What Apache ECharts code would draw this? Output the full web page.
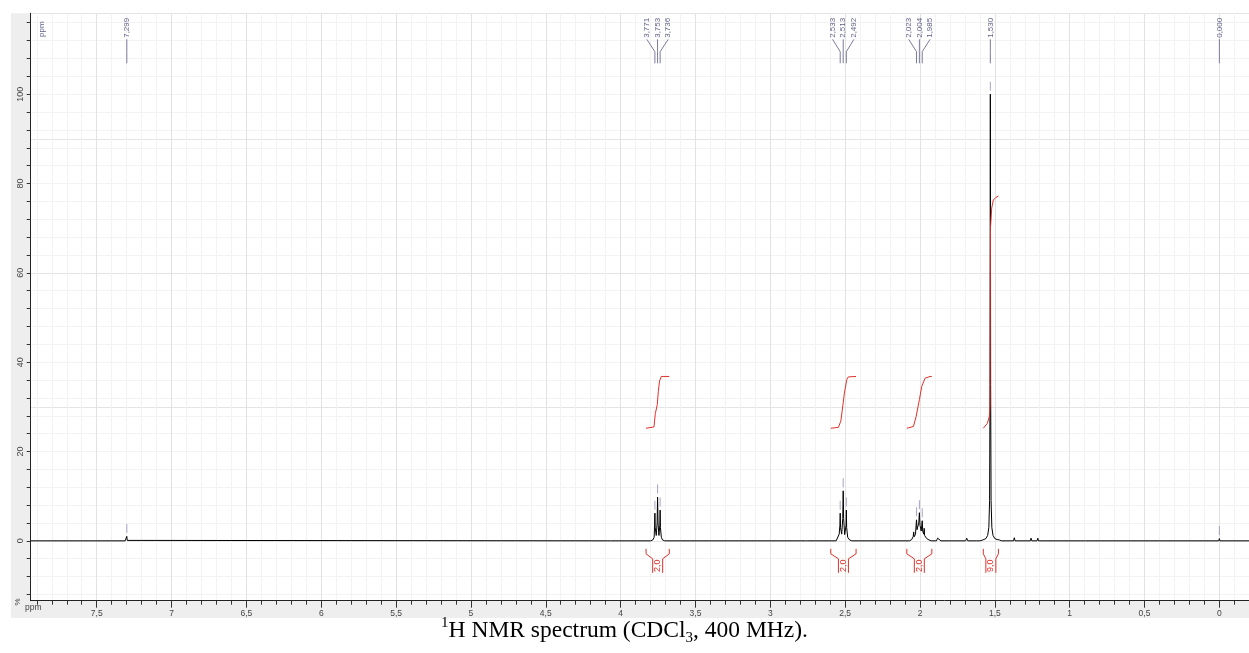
<!DOCTYPE html>
<html>
<head>
<meta charset="utf-8">
<script src="https://cdn.jsdelivr.net/npm/echarts@6/dist/echarts.min.js"></script>
<style>
    html, body { margin: 0; padding: 0; background: #fff; }
    #chart { width: 1249px; height: 653px; }
</style>
</head>
<body>
<div id="chart"></div>
<script>
// Axes ranges (ppm axis is reversed)
const xMin = -0.198, xMax = 7.941;
const yMin = -13.4, yMax = 118.1;
const xLabelValues = [0, 0.5, 1, 1.5, 2, 2.5, 3, 3.5, 4, 4.5, 5, 5.5, 6, 6.5, 7, 7.5];
const yLabelValues = [0, 20, 40, 60, 80, 100];

// Minor ticks: every 0.1 ppm / every 4 %
const xTickValues = [];
for (let i = -1; i <= 79; i++) xTickValues.push(+(i / 10).toFixed(1));
const yTickValues = [];
for (let v = -12; v <= 116; v += 4) yTickValues.push(v);

// Spectrum [ppm, intensity]
const spectrum = [
    [7.941, 0],
    [7.310, 0], [7.302, 0.1], [7.299, 1.0], [7.296, 0.1], [7.290, 0],
    [4.085, 0], [4.076, 0.3], [4.068, 0],
    [3.800, 0], [3.785, 0.2], [3.776, 0.8], [3.773, 3.5], [3.771, 6.2], [3.769, 3], [3.762, 1.2],
    [3.756, 4], [3.753, 9.8], [3.750, 4], [3.744, 1.2], [3.738, 3.5], [3.736, 6.9], [3.734, 3],
    [3.728, 0.8], [3.720, 0.2], [3.705, 0],
    [2.765, 0], [2.758, 0.3], [2.750, 0],
    [2.560, 0], [2.548, 0.3], [2.540, 1.5], [2.535, 3.5], [2.533, 6.2], [2.531, 3], [2.523, 1.5],
    [2.516, 5], [2.513, 11.2], [2.510, 5], [2.503, 1.4], [2.494, 3.5], [2.492, 6.9], [2.490, 3],
    [2.483, 0.8], [2.470, 0.2], [2.455, 0],
    [2.070, 0], [2.055, 0.3], [2.045, 1.0], [2.042, 2.0], [2.039, 0.9], [2.030, 1.5], [2.026, 3.5],
    [2.023, 4.7], [2.020, 2.5], [2.013, 2.5], [2.008, 4], [2.004, 6.3], [2.000, 3.5], [1.992, 2.2],
    [1.988, 3.5], [1.985, 4.5], [1.982, 2.2], [1.975, 1.5], [1.972, 2.8], [1.969, 1.2], [1.962, 1.3],
    [1.955, 0.5], [1.940, 0.2], [1.925, 0],
    [1.890, 0], [1.882, 0.6], [1.877, 1.0], [1.871, 0.5], [1.860, 0],
    [1.695, 0], [1.688, 0.6], [1.681, 0],
    [1.640, 0], [1.632, 0.3], [1.624, 0],
    [1.600, 0], [1.580, 0.2], [1.560, 0.5], [1.548, 1.2], [1.540, 3], [1.535, 9], [1.532, 35],
    [1.530, 100], [1.528, 35], [1.525, 9], [1.520, 3], [1.512, 1.2], [1.500, 0.5], [1.485, 0.3],
    [1.476, 0.5], [1.470, 0.2], [1.455, 0],
    [1.425, 0], [1.420, 0.3], [1.415, 0],
    [1.375, 0], [1.370, 0.7], [1.365, 0],
    [1.263, 0], [1.258, 0.6], [1.253, 0],
    [1.218, 0], [1.213, 0.6], [1.208, 0],
    [1.165, 0], [1.160, 0.4], [1.155, 0],
    [0.925, 0], [0.920, 0.3], [0.915, 0], [0.910, 0], [0.905, 0.3], [0.900, 0], [0.895, 0], [0.890, 0.3], [0.885, 0],
    [0.004, 0], [0.000, 0.5], [-0.004, 0],
    [-0.198, 0]
];

// Picked peaks
const peakPpm = [7.299, 3.771, 3.753, 3.736, 2.533, 2.513, 2.492, 2.023, 2.004, 1.985, 1.530, 0.000];
const peakHeight = [1.0, 6.2, 9.8, 6.9, 6.2, 11.2, 6.9, 4.7, 6.3, 4.5, 100, 0.5];
const peakGroup = [0, 1, 1, 1, 2, 2, 2, 3, 3, 3, 4, 5];
const peakText = ['7,299', '3,771', '3,753', '3,736', '2,533', '2,513', '2,492', '2,023', '2,004', '1,985', '1,530', '0,000'];

// Integrals
const integralRegions = [[3.830, 3.675], [2.596, 2.427], [2.088, 1.921], [1.577, 1.476]];
const integralText = ['2,0', '2,0', '2,0', '9,0'];
const integralCurves = [
    [[3.830, 25.2], [3.777, 25.5], [3.768, 28.5], [3.755, 30.5], [3.748, 33.5], [3.740, 35.8], [3.728, 36.8], [3.675, 36.8]],
    [[2.596, 25.2], [2.545, 25.4], [2.529, 26.8], [2.519, 29.3], [2.505, 33.1], [2.489, 36.1], [2.479, 36.7], [2.427, 36.8]],
    [[2.088, 25.2], [2.044, 25.6], [2.026, 27.8], [2.004, 31.6], [1.988, 34.6], [1.966, 36.4], [1.933, 36.8], [1.921, 36.8]],
    [[1.577, 25.2], [1.550, 26.3], [1.537, 27.8], [1.532, 30.1], [1.529, 70.0], [1.521, 74.5], [1.510, 76.3], [1.492, 76.9], [1.476, 77.2]]
];

const FONT = 'Liberation Sans';
const LABEL_BLUE = '#5f5f88';
const LINE_BLUE = '#7a7a9e';
const RED = '#e0302a';
const fmt = v => String(v).replace('.', ',');

function renderPeakLabel(params, api)
{
    const i = api.value(2);
    const top = params.coordSys.y;
    const members = [];
    peakGroup.forEach((g, j) => { if (g === peakGroup[i]) members.push(j); });
    const xs = members.map(j => api.coord([peakPpm[j], 0])[0]);
    const k = members.indexOf(i);
    const n = members.length;
    const center = xs.reduce((a, b) => a + b, 0) / n;
    const peakX = api.coord([api.value(0), 0])[0];
    const labelX = n === 1 ? peakX : center + (k - (n - 1) / 2) * 10.7;
    return {
        type: 'group',
        children: [
            {
                type: 'polyline',
                shape: { points: [[labelX, top + 26], [peakX, top + 38.4], [peakX, top + 50]] },
                style: { stroke: LINE_BLUE, lineWidth: 1, fill: null }
            },
            {
                type: 'text',
                x: labelX,
                y: top + 24.5,
                rotation: Math.PI / 2,
                style: {
                    text: peakText[i], fill: LABEL_BLUE, font: '8px "Liberation Sans"',
                    align: 'left', verticalAlign: 'middle'
                }
            }
        ]
    };
}

function renderIntegralBracket(params, api)
{
    const x1 = api.coord([api.value(0), 0])[0];
    const x2 = api.coord([api.value(1), 0])[0];
    const y0 = api.coord([0, 0])[1];
    const cx = (x1 + x2) / 2;
    const style = { stroke: RED, lineWidth: 1, fill: null };
    return {
        type: 'group',
        children: [
            { type: 'polyline', shape: { points: [[x1, y0 + 8], [x1, y0 + 13], [cx - 5, y0 + 18], [cx - 5, y0 + 32]] }, style },
            { type: 'polyline', shape: { points: [[x2, y0 + 8], [x2, y0 + 13], [cx + 5, y0 + 18], [cx + 5, y0 + 32]] }, style },
            {
                type: 'text', x: cx, y: y0 + 25, rotation: Math.PI / 2,
                style: {
                    text: integralText[api.value(3)], fill: RED, font: '9px "Liberation Sans"',
                    align: 'center', verticalAlign: 'middle'
                }
            }
        ]
    };
}

const chart = echarts.init(document.getElementById('chart'));

const gridBox = { left: 30.7, top: 13.3, right: 0, bottom: 52.3 };

chart.setOption({
    animation: false,
    title: {
        text: '{sup|1}H NMR spectrum (CDCl{sub|3}, 400 MHz).',
        left: 'center',
        top: 616,
        padding: 0,
        textStyle: {
            fontFamily: 'Liberation Serif', fontSize: 23.5, fontWeight: 'normal', color: '#000', lineHeight: 30,
            rich: {
                sup: { fontFamily: 'Liberation Serif', fontSize: 15, lineHeight: 15, verticalAlign: 'top', color: '#000' },
                sub: { fontFamily: 'Liberation Serif', fontSize: 15, lineHeight: 15, verticalAlign: 'bottom', color: '#000' }
            }
        }
    },
    graphic: [
        { type: 'rect', z: -1, shape: { x: 11, y: 13.3, width: 19.7, height: 604.7 }, style: { fill: '#eeeeee' } },
        { type: 'rect', z: -1, shape: { x: 11, y: 600.7, width: 1238, height: 17.3 }, style: { fill: '#eeeeee' } },
        {
            type: 'text', x: 41.5, y: 37, rotation: Math.PI / 2, z: 5,
            style: { text: 'ppm', fill: LABEL_BLUE, font: '8px "Liberation Sans"', align: 'left', verticalAlign: 'middle' }
        },
        {
            type: 'text', x: 18, y: 602, rotation: Math.PI / 2, z: 5,
            style: { text: '%', fill: '#444', font: '8px "Liberation Sans"', align: 'center', verticalAlign: 'middle' }
        },
        {
            type: 'text', x: 25, y: 608, z: 5,
            style: { text: 'ppm', fill: '#444', font: '8.5px "Liberation Sans"', align: 'left', verticalAlign: 'middle' }
        }
    ],
    grid: gridBox,
    xAxis: [
        {
            type: 'value', inverse: true, min: xMin, max: xMax, position: 'bottom',
            axisLine: { onZero: false, lineStyle: { color: '#222', width: 1 } },
            axisTick: { customValues: xTickValues, length: 4, lineStyle: { color: '#333' } },
            axisLabel: { show: false },
            splitLine: { show: true, lineStyle: { color: '#f3f3f3', width: 1 } }
        },
        {
            type: 'value', inverse: true, min: xMin, max: xMax, position: 'bottom',
            axisLine: { show: false, onZero: false },
            axisTick: { customValues: xLabelValues, length: 7, lineStyle: { color: '#333' } },
            axisLabel: {
                customValues: xLabelValues, formatter: fmt, margin: 8,
                color: '#444', fontSize: 8.5, fontFamily: FONT
            },
            splitLine: { show: true, lineStyle: { color: '#e2e2e2', width: 1 } }
        }
    ],
    yAxis: [
        {
            type: 'value', min: yMin, max: yMax, position: 'left',
            axisLine: { show: true, onZero: false, lineStyle: { color: '#222', width: 1 } },
            axisTick: { show: true, customValues: yTickValues, length: 4, lineStyle: { color: '#333' } },
            axisLabel: { show: false },
            splitLine: { show: true, lineStyle: { color: '#f3f3f3', width: 1 } }
        },
        {
            type: 'value', min: yMin, max: yMax, position: 'left',
            axisLine: { show: false, onZero: false },
            axisTick: { show: false },
            axisLabel: {
                customValues: yLabelValues, rotate: 90, margin: 6,
                color: '#444', fontSize: 9, fontFamily: FONT
            },
            splitLine: { show: true, lineStyle: { color: '#e4e4e4', width: 1 } }
        }
    ],
    series: [
        {
            type: 'line', name: 'spectrum', data: spectrum, xAxisIndex: 0, yAxisIndex: 0,
            symbol: 'none', sampling: null, z: 3,
            lineStyle: { color: '#000', width: 1 }
        },
        ...integralCurves.map(curve => ({
            type: 'line', data: curve, xAxisIndex: 0, yAxisIndex: 0,
            symbol: 'none', z: 4,
            lineStyle: { color: RED, width: 1 }
        })),
        {
            type: 'scatter', name: 'markers', xAxisIndex: 0, yAxisIndex: 0,
            data: peakPpm.map((p, i) => [p, peakHeight[i]]),
            symbol: 'rect', symbolSize: [1, 9], symbolOffset: [0, -8], z: 5,
            itemStyle: { color: '#8e8eb0' }
        },
        {
            type: 'custom', name: 'peakLabels', xAxisIndex: 0, yAxisIndex: 0,
            data: peakPpm.map((p, i) => [p, 0, i]),
            encode: { x: 0, y: 1 },
            renderItem: renderPeakLabel, z: 6
        },
        {
            type: 'custom', name: 'integralBrackets', xAxisIndex: 0, yAxisIndex: 0,
            data: integralRegions.map((r, i) => [r[0], r[1], 0, i]),
            encode: { x: [0, 1], y: 2 },
            renderItem: renderIntegralBracket, z: 6
        }
    ]
});
</script>
</body>
</html>
